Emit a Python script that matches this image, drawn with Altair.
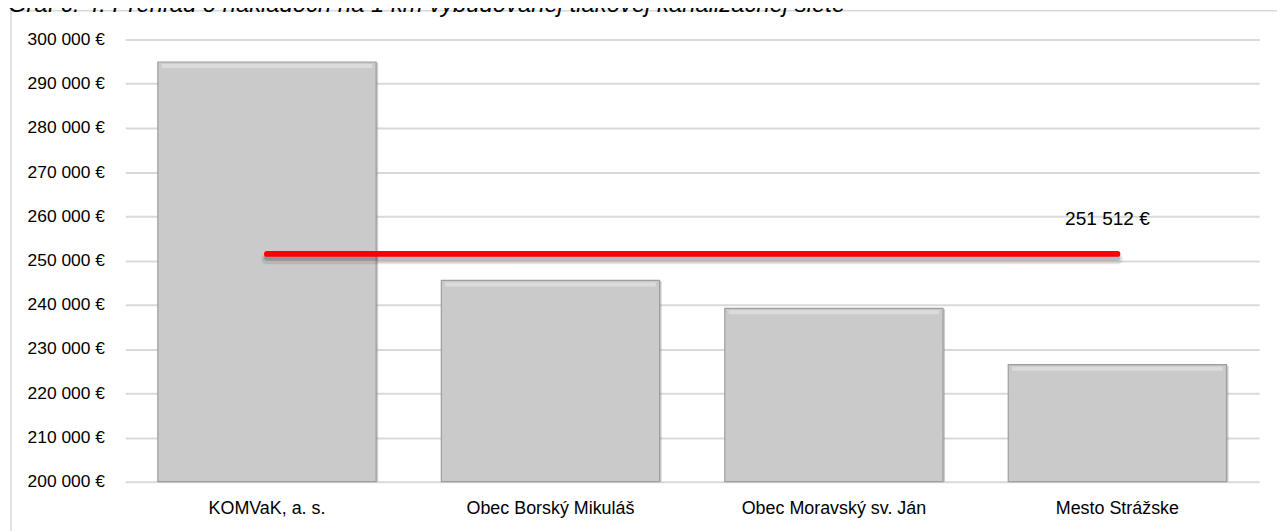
import altair as alt
import pandas as pd

categories = ["KOMVaK, a. s.", "Obec Borský Mikuláš", "Obec Moravský sv. Ján", "Mesto Strážske"]
values = [294900, 245500, 239200, 226448]
average = 251512
y_ticks = [200000, 210000, 220000, 230000, 240000, 250000, 260000, 270000, 280000, 290000, 300000]
title_text = "Graf č. 4: Prehľad o nákladoch na 1 km vybudovanej tlakovej kanalizačnej siete"

FONT = "Liberation Sans Narrow, Arial Narrow, Liberation Sans, Arial, sans-serif"

bars_df = pd.DataFrame({"category": categories, "value": values})
avg_df = pd.DataFrame({"start": [categories[0]], "end": [categories[-1]], "avg": [average],
                       "label": ["251 512 €"], "last": [categories[-1]]})
one = pd.DataFrame({"k": [0]})

xscale = alt.Scale(domain=categories, paddingInner=0.23, paddingOuter=0.115)
yscale = alt.Scale(domain=[200000, 300000], zero=False, nice=False)

label_expr = "replace(format(datum.value, ','), ',', ' ') + ' €'"

border = alt.Chart(one).mark_rect(fill=None, stroke="#d9d9d9", strokeWidth=1.5).encode(
    x=alt.value(-115), x2=alt.value(1200), y=alt.value(-29), y2=alt.value(600)
)

title = alt.Chart(one).mark_text(
    align="left", baseline="alphabetic", font=FONT, fontSize=24, fontStyle="italic", color="black"
).encode(x=alt.value(-118), y=alt.value(-28), text=alt.value(title_text))

xenc = alt.X("category:N", scale=xscale, sort=categories,
             axis=alt.Axis(title=None, labelAngle=0, ticks=False, domain=False,
                           labelPadding=18, labelFont=FONT, labelFontSize=18, labelLimit=0,
                           labelColor="black", grid=False))
yenc = alt.Y("value:Q", scale=yscale,
             axis=alt.Axis(title=None, values=y_ticks, labelExpr=label_expr, ticks=False,
                           domain=False, labelPadding=21, labelFont=FONT, labelFontSize=17.5,
                           labelColor="black", grid=True, gridColor="#d9d9d9", gridWidth=2))

bar_shadow = alt.Chart(bars_df).mark_bar(fill="#8f8f8f", opacity=0.45, xOffset=2, yOffset=1).encode(
    x=xenc, y=yenc, y2=alt.Y2(datum=200000))

bars = alt.Chart(bars_df).mark_bar(
    fill="#cacaca", stroke="#9d9d9d", strokeWidth=1.2
).encode(x=xenc, y=yenc, y2=alt.Y2(datum=200000))

bar_top = alt.Chart(bars_df).mark_tick(color="#e2e2e2", thickness=4, size=212, yOffset=4).encode(
    x=xenc, y=yenc)

shadow1 = alt.Chart(avg_df).mark_rule(color="black", opacity=0.10, strokeWidth=11,
                                      strokeCap="round", yOffset=5).encode(
    x=alt.X("start:N", scale=xscale, sort=categories), x2="end:N",
    y=alt.Y("avg:Q", scale=yscale))
shadow2 = alt.Chart(avg_df).mark_rule(color="black", opacity=0.18, strokeWidth=6,
                                      strokeCap="round", yOffset=4).encode(
    x=alt.X("start:N", scale=xscale, sort=categories), x2="end:N",
    y=alt.Y("avg:Q", scale=yscale))
redline = alt.Chart(avg_df).mark_rule(color="#ff0000", strokeWidth=6, strokeCap="round").encode(
    x=alt.X("start:N", scale=xscale, sort=categories), x2="end:N",
    y=alt.Y("avg:Q", scale=yscale))

avg_label = alt.Chart(avg_df).mark_text(
    font=FONT, fontSize=19.2, color="black", align="center", baseline="alphabetic", dx=-10, dy=-29
).encode(
    x=alt.X("last:N", scale=xscale, sort=categories),
    y=alt.Y("avg:Q", scale=yscale),
    text="label:N",
)

chart = alt.layer(border, title, bar_shadow, bars, bar_top, shadow1, shadow2, redline, avg_label).properties(
    width=1141, height=445,
    autosize=alt.AutoSizeParams(type="none"),
    padding={"left": 118, "top": 30, "right": 18, "bottom": 48},
    background="white",
).configure_view(stroke=None)

chart.save("out.html", embed_options={"renderer": "svg", "actions": False})
